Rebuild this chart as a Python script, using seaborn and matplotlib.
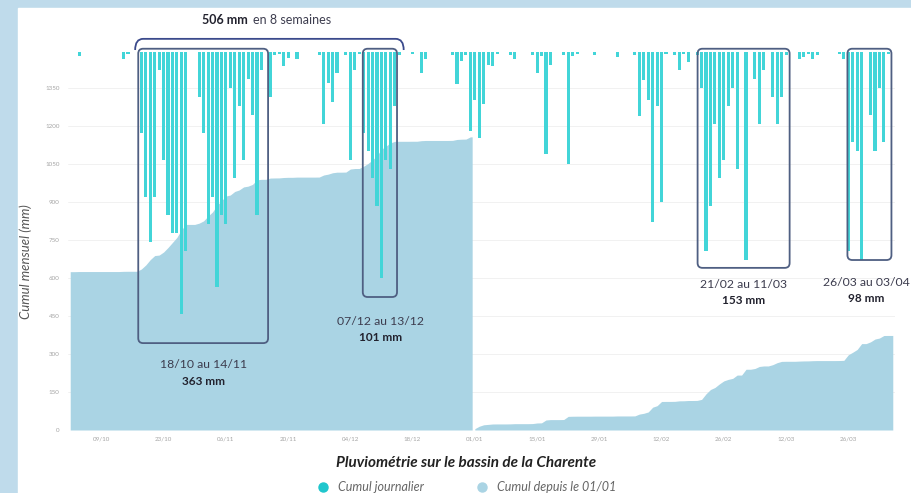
import numpy as np
import pandas as pd
import matplotlib
matplotlib.use("Agg")
import matplotlib.pyplot as plt
import seaborn as sns
from matplotlib.patches import FancyBboxPatch, Rectangle, PathPatch
from matplotlib.path import Path
from matplotlib.lines import Line2D

sns.set_theme(style="white")
plt.rcParams['font.family'] = ['Lato', 'DejaVu Sans']

# daily rainfall (mm) from 02/10/2020 to 05/04/2021
rain_oct = [0, 0, 0.5, 0, 0, 0, 0, 0, 0, 0, 0, 0, 0.8, 0.2, 0,
            0,
            9, 16, 21, 16, 2, 12, 18, 20, 20, 29, 22, 0, 0, 5]
rain_nov = [9, 19, 16, 26, 18, 19, 4, 14, 6, 12, 3, 7, 18, 2,
            0, 5, 0.4, 0.2, 1.6, 0.7, 0, 0.8, 0, 0, 0, 0, 0.3, 8, 3.4, 5.5]
rain_dec = [2.3, 0, 0.4, 12, 2, 0.2, 9, 11, 14, 17, 25, 12, 13, 6, 0.3, 0,
            0, 0.2, 0, 2.3, 0.8, 0, 0, 0, 0, 0, 0.4, 3.6, 1, 0.4, 8.8]
rain_jan = [5.3, 9.5, 5.8, 1.5, 1.6, 0.2, 0, 0, 0.3, 0.8, 0, 0, 0, 0.4, 2.3, 0.5,
            11.3, 1.5, 0, 0, 0.4, 12.4, 0.5, 0.2, 0, 0, 0, 0.3, 0, 0, 0]
rain_feb = [0, 0.6, 0, 0, 0, 0.3, 7.1, 3.1, 5.3, 18.8, 6, 16.6, 0.2, 0,
            0.3, 2, 0.2, 1.1, 0, 0.4, 4, 22, 17, 8, 14, 12, 6, 4]
rain_mar = [13, 0, 23, 0, 3, 8, 2, 0, 5, 8, 5, 0.4, 0, 0, 0.8, 0.6, 0.2, 0.8, 0.4,
            0, 0, 0, 0, 0.2, 0.8, 22, 10, 11, 23, 0, 7]
rain_apr = [11, 4, 10, 0.2, 0]
cumul_start_2020 = 625  # cumul since 01/01/2020 on 01/10

xtick_labels = ["09/10", "23/10", "06/11", "20/11", "04/12", "18/12", "01/01",
                "15/01", "29/01", "12/02", "26/02", "12/03", "26/03"]
yticks = [0, 150, 300, 450, 600, 750, 900, 1050, 1200, 1350]

episodes = ["18/10 au 14/11", "07/12 au 13/12", "21/02 au 11/03", "26/03 au 03/04"]
episode_totals = ["363 mm", "101 mm", "153 mm", "98 mm"]

bar_col = "#42d5d8"
area_col = "#aad4e4"
box_col = "#4f5f82"
txt_col = "#3d3d4f"

dates = pd.date_range("2020-10-02", "2021-04-05", freq="D")
daily = np.array(rain_oct + rain_nov + rain_dec + rain_jan + rain_feb + rain_mar + rain_apr)
day = (dates - pd.Timestamp("2021-01-01")).days.to_numpy()
old = day < 0
cum_old = cumul_start_2020 + np.cumsum(daily[old])
cum_new = np.cumsum(daily[~old])

fig = plt.figure(figsize=(9.12, 4.93), dpi=100, facecolor="#bfdbeb")
fig.patches.append(Rectangle((18/912, 0), 1, 1-8/493, transform=fig.transFigure,
                             color="white", zorder=-10))
ax = fig.add_axes([68/912, 1-430/493, 827/912, 380/493])
ax.set_facecolor("none")

ax.fill_between(np.append(day[old], -0.6), np.append(cum_old, cum_old[-1]),
                color=area_col, lw=0, zorder=2)
ax.fill_between(day[~old], cum_new, color=area_col, lw=0, zorder=2)

ax.set_ylim(0, 1500)
ax.set_yticks(yticks)
ax.yaxis.grid(True, color="#efefef", lw=0.6)
ax.set_axisbelow(True)
sns.despine(ax=ax, left=True, bottom=True)

ax2 = ax.twinx()
sns.barplot(x=day, y=daily, native_scale=True, orient="x", width=0.7,
            color=bar_col, saturation=1, errorbar=None, ax=ax2, lw=0)
ax2.set_ylim(41.8, -0.2)
ax2.axis("off")

ax.set_xlim(-91.5, 94.5)
ax.set_xticks(np.arange(-84, 85, 14))
ax.set_xticklabels(xtick_labels)
ax.tick_params(labelsize=4.5, colors="#a5a5a5", length=0)
ax.tick_params(axis="y", pad=6)
ax.tick_params(axis="x", pad=5)
ax.set_xlabel("")
ax.set_ylabel("")

# boxes around the rainy episodes
aspect = 4.45 / (380 / 1500)
boxes = [(-75.7, -46.5, 343), (-25.2, -17.5, 525), (50.1, 70.8, 640), (83.8, 93.7, 671)]
for x0, x1, yb in boxes:
    p = FancyBboxPatch((x0, yb), x1-x0, 1505-yb, boxstyle="round,pad=0,rounding_size=1.1",
                       mutation_aspect=aspect, fill=False, ec=box_col, lw=1.3,
                       transform=ax.transData, clip_on=False, zorder=6)
    ax2.add_patch(p)

labels_pos = [(-61, 257, 193), (-21.3, 430, 367), (60.4, 576, 513), (88.0, 584, 521)]
for (xc, y1, y2), txt, tot in zip(labels_pos, episodes, episode_totals):
    ax.text(xc, y1, txt, ha="center", va="center", fontsize=8.8, color=txt_col, zorder=7)
    ax.text(xc, y2, tot, ha="center", va="center", fontsize=8.5, weight="bold",
            color="#22222e", zorder=7)

# brace over the first two episodes
verts = [(-76.4, 1500), (-76.4, 1544), (-74.6, 1544), (-17.8, 1544),
         (-16.0, 1544), (-16.0, 1500)]
codes = [Path.MOVETO, Path.CURVE3, Path.CURVE3, Path.LINETO, Path.CURVE3, Path.CURVE3]
ax.add_patch(PathPatch(Path(verts, codes), fill=False, ec="#3b4a8c", lw=1.3,
                       clip_on=False, zorder=7))
ax.text(-51.0, 1619, "506 mm", ha="right", va="center", fontsize=9, weight="bold",
        color="#22222e", clip_on=False)
ax.text(-50.0, 1619, "en 8 semaines", ha="left", va="center", fontsize=9,
        color=txt_col, clip_on=False)

fig.text(0.028, 0.469, "Cumul mensuel (mm)", rotation=90, ha="center", va="center",
         fontsize=9.5, style="italic", color="#555555")
fig.text(0.511, 1-463/493, "Pluviométrie sur le bassin de la Charente", ha="center",
         va="center", fontsize=11, weight="bold", style="italic", color="#222222")

handles = [Line2D([], [], marker="o", ls="", ms=6.5, mfc="#1fc6cd", mec="#1fc6cd",
                  label="Cumul journalier"),
           Line2D([], [], marker="o", ls="", ms=6.5, mfc=area_col, mec=area_col,
                  label="Cumul depuis le 01/01")]
leg = fig.legend(handles=handles, loc="center", bbox_to_anchor=(0.508, 1-487/493), ncol=2,
                 frameon=False, prop={"size": 9, "style": "italic"},
                 columnspacing=3.6, handletextpad=0.25)
for t in leg.get_texts():
    t.set_color("#666666")

fig.savefig("out.png", dpi=100, facecolor=fig.get_facecolor())
